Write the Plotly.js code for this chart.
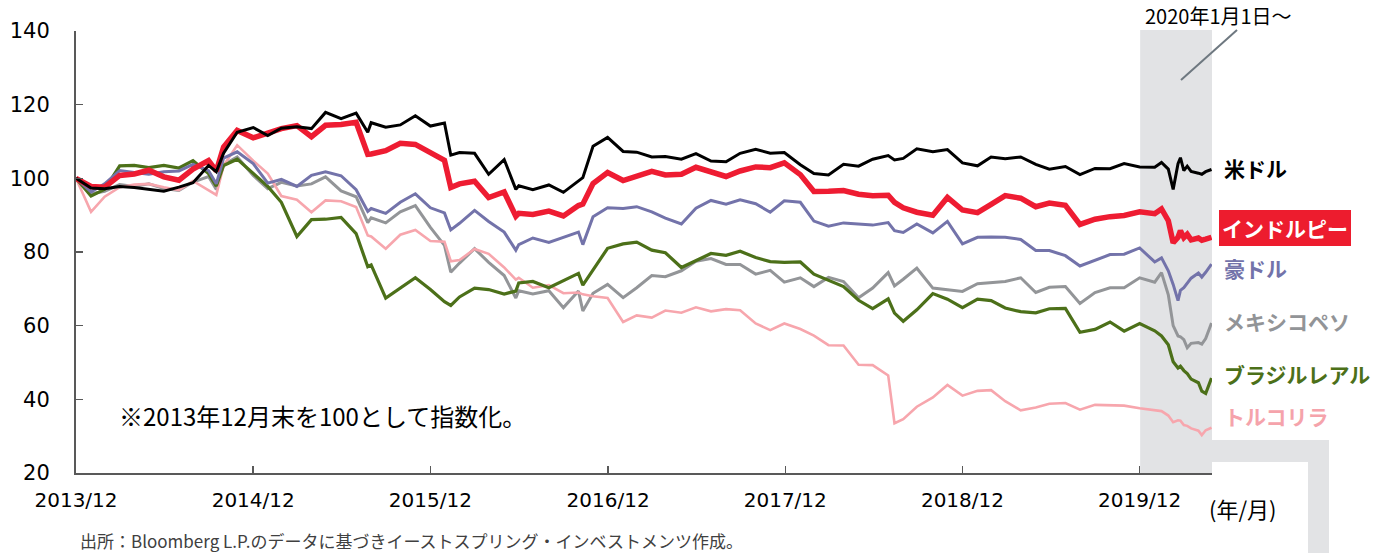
<!DOCTYPE html>
<html>
<head>
<meta charset="utf-8">
<script src="https://cdn.plot.ly/plotly-3.0.1.min.js"></script>
<style>
html,body{margin:0;padding:0;background:#fff;}
#chart{width:1392px;height:553px;}
</style>
</head>
<body>
<div id="chart"></div>
<script>
const dates = [
"2013-12-31","2014-01-31","2014-02-28","2014-03-31","2014-04-30","2014-05-30","2014-06-30","2014-07-31","2014-08-29","2014-09-30",
"2014-10-16","2014-10-31","2014-11-28","2014-12-31","2015-01-30","2015-02-27","2015-03-31","2015-04-30","2015-05-29","2015-06-30",
"2015-07-31","2015-08-24","2015-08-31","2015-09-30","2015-10-30","2015-11-30","2015-12-31","2016-01-29","2016-02-11","2016-02-29",
"2016-03-31","2016-04-29","2016-05-31","2016-06-24","2016-06-30","2016-07-29","2016-08-31","2016-09-30","2016-10-31","2016-11-09",
"2016-11-30","2016-12-30","2017-01-31","2017-02-28","2017-03-31","2017-04-28","2017-05-31","2017-06-30","2017-07-31","2017-08-31",
"2017-09-29","2017-10-31","2017-11-30","2017-12-29","2018-01-31","2018-02-28","2018-03-30","2018-04-30","2018-05-31","2018-06-29",
"2018-07-31","2018-08-13","2018-08-31","2018-09-28","2018-10-31","2018-11-30","2018-12-31","2019-01-31","2019-02-28","2019-03-29",
"2019-04-30","2019-05-31","2019-06-28","2019-07-31","2019-08-30","2019-09-30","2019-10-31","2019-11-29","2019-12-31","2020-01-31",
"2020-02-14","2020-02-28","2020-03-09","2020-03-19","2020-03-24","2020-03-31","2020-04-07","2020-04-15","2020-04-30","2020-05-07",
"2020-05-15","2020-05-27"
];

const usd = [
100,97.4,97.2,97.8,97.5,97.0,96.5,97.6,98.8,103.5,
101.8,106.8,112.5,113.8,111.6,113.6,114.0,113.5,117.9,116.2,
117.7,112.5,115.1,113.9,114.5,117.0,114.2,115.0,106.3,107.0,
106.8,101.1,105.1,97.0,98.0,96.9,98.2,96.2,99.5,100.2,
108.7,111.1,107.3,107.1,105.8,105.9,105.2,106.7,104.7,104.5,
106.8,107.9,106.8,107.0,103.7,101.3,100.9,103.8,103.3,105.2,
106.2,105.0,105.4,108.0,107.2,107.8,104.2,103.4,105.8,105.3,
105.8,103.8,102.5,103.2,101.0,102.7,102.6,104.0,103.1,103.0,
104.3,102.5,97.0,104.0,105.6,102.1,103.3,101.9,101.4,101.1,
101.8,102.4
];

const inr = [
100,97.8,97.6,100.8,101.2,102.2,100.4,99.5,102.5,104.8,
102.0,108.5,113.0,111.0,112.3,113.5,114.3,111.3,114.4,114.6,
115.2,106.5,106.6,107.5,109.5,109.2,107.0,104.9,97.5,98.5,
99.2,94.8,96.3,89.7,90.5,90.2,91.1,89.8,92.6,93.0,
98.6,101.6,99.4,100.5,101.9,100.9,101.1,103.0,101.8,100.5,
102.0,103.1,102.9,104.2,101.0,96.4,96.5,96.7,95.7,95.3,
95.4,93.5,92.0,90.8,90.0,94.8,91.4,90.7,92.9,95.3,
94.6,92.3,93.3,92.7,87.5,88.9,89.6,89.9,90.9,90.4,
91.7,88.5,82.5,84.0,85.8,83.9,84.8,83.3,83.8,83.2,
83.5,84.0
];

const aud = [
100,96.3,98.5,102.1,101.6,101.1,101.8,102.0,103.8,102.1,
98.5,105.5,107.2,104.0,98.7,99.7,97.8,100.8,101.8,100.7,
96.9,91.0,91.8,90.5,93.5,95.8,92.0,90.6,86.0,87.8,
91.3,88.3,85.4,80.5,82.0,83.8,82.6,83.9,85.4,82.0,
89.6,92.0,91.8,92.3,90.9,89.2,87.6,91.9,94.0,93.0,
94.2,93.1,90.8,93.9,93.5,88.4,87.0,87.9,87.5,87.3,
88.0,85.8,85.3,87.6,85.2,88.3,82.2,84.0,84.1,84.0,
83.4,80.4,80.4,79.0,76.2,77.7,79.3,79.4,81.1,77.3,
78.4,74.9,71.2,66.8,69.6,70.3,71.6,72.9,74.3,73.2,
74.5,76.7
];

const mxn = [
100,95.8,96.5,98.3,97.8,98.5,97.2,96.7,99.0,100.5,
97.0,103.7,105.8,100.8,97.2,98.9,97.9,98.5,100.4,96.6,
95.0,88.0,89.3,87.9,90.9,92.6,86.7,81.8,74.5,77.0,
80.9,77.2,73.6,67.5,69.5,68.6,69.5,64.9,69.4,64.0,
68.8,71.2,67.6,70.3,73.6,73.3,74.9,77.5,78.2,76.6,
76.6,74.0,75.0,71.8,73.0,70.6,73.1,72.0,67.6,70.2,
74.4,70.8,72.6,75.6,70.2,69.8,69.3,71.4,71.6,72.0,
73.0,69.0,70.4,70.6,66.0,69.0,70.3,70.3,73.0,71.8,
74.4,68.4,60.0,57.2,57.0,56.2,54.0,55.2,55.4,55.0,
56.5,60.7
];

const brl = [
100,95.2,97.0,103.4,103.5,102.9,103.5,102.8,104.8,101.3,
97.9,103.5,105.2,101.2,97.8,93.5,84.2,88.8,88.9,89.4,
85.0,76.0,76.5,67.5,70.2,73.0,69.8,66.5,65.5,67.8,
70.2,69.8,68.6,69.4,71.6,72.0,70.3,72.3,74.2,71.0,
75.0,81.0,82.2,82.7,80.5,79.8,75.8,77.6,79.6,79.1,
80.2,78.5,77.4,77.2,77.3,74.0,72.4,70.6,66.9,64.6,
67.3,63.4,61.2,64.3,68.7,67.2,64.9,67.2,66.8,64.8,
63.8,63.5,64.6,64.7,58.2,59.0,61.0,58.5,60.6,58.6,
57.2,54.8,50.2,48.5,49.0,47.8,47.0,45.5,44.5,42.2,
41.6,45.8
];

const tryl = [
100,90.9,95.0,97.6,98.3,98.5,97.6,96.8,99.3,96.8,
95.5,103.5,109.0,104.8,101.3,95.2,94.2,90.8,94.0,93.8,
92.2,84.5,84.2,80.9,84.7,86.0,83.0,82.8,77.5,77.8,
80.8,79.5,75.8,72.5,73.0,70.3,71.0,68.8,69.0,68.5,
68.0,67.5,61.0,62.8,62.2,64.1,63.5,65.0,63.9,64.5,
64.2,60.6,58.8,60.6,59.1,57.3,54.7,54.6,49.4,49.3,
46.5,33.5,34.6,38.0,40.5,43.9,41.0,42.3,42.5,39.5,
37.0,37.8,38.8,39.0,37.2,38.5,38.4,38.3,37.6,37.1,
36.8,35.6,33.8,34.3,34.2,33.0,32.8,32.1,31.5,30.3,
31.6,32.3
];

const tickDates = ["2013-12-31","2014-12-31","2015-12-31","2016-12-31","2017-12-31","2018-12-31","2019-12-31"];
const tickLabels = ["2013/12","2014/12","2015/12","2016/12","2017/12","2018/12","2019/12"];
const yTicks = [20,40,60,80,100,120,140];

const seriesNames = ["メキシコペソ","トルコリラ","ブラジルレアル","豪ドル","インドルピー","米ドル"];
const seriesValues = [mxn, tryl, brl, aud, inr, usd];
const seriesColors = ["#939598","#f7a6ad","#4c7019","#7373aa","#ee1c32","#000000"];
const seriesWidths = [3, 2.6, 3.2, 3, 5.5, 3];

const traces = seriesNames.map((n, i) => ({
  type: "scatter", mode: "lines", name: n,
  x: dates, y: seriesValues[i],
  line: {color: seriesColors[i], width: seriesWidths[i]},
  hoverinfo: "skip"
}));

const W = 1136, H = 442, L = 76, T = 31;
const px = v => (v - L) / W;
const py = v => (T + H - v) / H;

const jp = '"Noto Sans CJK JP", "Noto Sans", sans-serif';
const num = '"DejaVu Sans", Verdana, sans-serif';

const labelDefs = [
  {t: "米ドル", y: 168, c: "#000000"},
  {t: "豪ドル", y: 268, c: "#7373aa"},
  {t: "メキシコペソ", y: 321, c: "#929497"},
  {t: "ブラジルレアル", y: 374, c: "#4c7019"},
  {t: "トルコリラ", y: 416, c: "#f5a3ab"}
];

const annotations = labelDefs.map(d => ({
  xref: "paper", yref: "paper", x: px(1222), y: py(d.y),
  xanchor: "left", yanchor: "middle", showarrow: false,
  text: "<b>" + d.t + "</b>", font: {family: jp, size: 21, color: d.c}
}));

annotations.push({
  xref: "paper", yref: "paper", x: px(1219), y: py(228.5),
  xanchor: "left", yanchor: "middle", showarrow: false,
  text: "<b>インドルピー</b>", font: {family: jp, size: 21, color: "#ffffff"},
  bgcolor: "#ed1c2e", borderpad: 3, borderwidth: 0
});
annotations.push({
  xref: "paper", yref: "paper", x: px(117), y: py(415),
  xanchor: "left", yanchor: "middle", showarrow: false,
  text: "※2013年12月末を100として指数化。", font: {family: jp, size: 24, color: "#000000"}
});
annotations.push({
  xref: "paper", yref: "paper", x: px(78), y: py(540),
  xanchor: "left", yanchor: "middle", showarrow: false,
  text: "出所：Bloomberg L.P.のデータに基づきイーストスプリング・インベストメンツ作成。",
  font: {family: jp, size: 17, color: "#404040"}
});
annotations.push({
  xref: "paper", yref: "paper", x: px(1243), y: py(508),
  xanchor: "center", yanchor: "middle", showarrow: false,
  text: "(年/月)", font: {family: jp, size: 22, color: "#000000"}
});
annotations.push({
  xref: "paper", yref: "paper", x: px(1218), y: py(16),
  xanchor: "center", yanchor: "middle", showarrow: false,
  text: "2020年1月1日～", font: {family: jp, size: 20, color: "#000000"}
});

const shapes = [
  {type: "rect", xref: "x", yref: "paper", x0: "2020-01-01", x1: "2020-05-28", y0: 0, y1: py(30),
   fillcolor: "#e2e3e5", line: {width: 0}, layer: "below"},
  {type: "rect", xref: "paper", yref: "paper", x0: px(1212), x1: px(1329), y0: py(462), y1: py(440),
   fillcolor: "#e2e3e5", line: {width: 0}, layer: "below"},
  {type: "rect", xref: "paper", yref: "paper", x0: px(1308), x1: px(1329), y0: py(560), y1: py(440),
   fillcolor: "#e2e3e5", line: {width: 0}, layer: "below"},
  {type: "line", xref: "paper", yref: "paper", x0: px(1181), y0: py(80), x1: px(1237), y1: py(30),
   line: {color: "#6e7880", width: 2}}
];

const layout = {
  width: 1392, height: 553,
  margin: {l: L, r: 1392 - L - W, t: T, b: 553 - T - H},
  paper_bgcolor: "#ffffff", plot_bgcolor: "rgba(0,0,0,0)",
  showlegend: false,
  xaxis: {
    type: "date", range: ["2013-12-31", "2020-05-28"],
    tickmode: "array", tickvals: tickDates, ticktext: tickLabels,
    ticks: "inside", ticklen: 7, tickwidth: 1.5, tickcolor: "#595959",
    showline: true, linecolor: "#595959", linewidth: 2,
    showgrid: false, zeroline: false,
    tickfont: {family: num, size: 20, color: "#000000"},
    ticklabelstandoff: 8
  },
  yaxis: {
    range: [20, 140], tickmode: "array", tickvals: yTicks,
    ticks: "inside", ticklen: 7, tickwidth: 1.5, tickcolor: "#595959",
    showline: true, linecolor: "#595959", linewidth: 2,
    showgrid: false, zeroline: false,
    tickfont: {family: num, size: 21, color: "#000000"},
    ticklabelstandoff: 20
  },
  shapes: shapes,
  annotations: annotations
};

Plotly.newPlot("chart", traces, layout, {displayModeBar: false, staticPlot: true});
</script>
</body>
</html>
